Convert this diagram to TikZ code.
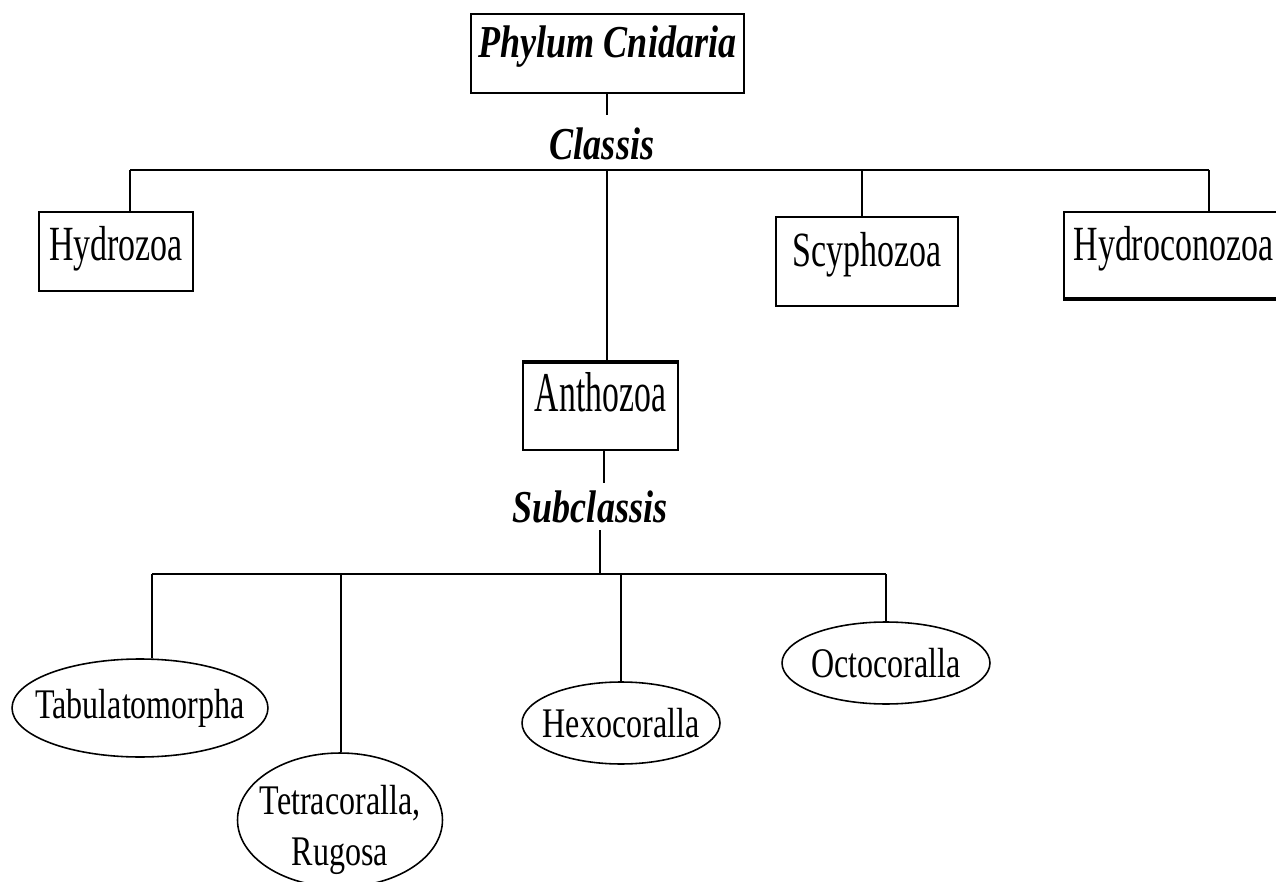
\documentclass[tikz,border=0pt]{standalone}
\usepackage{fontspec}
\setmainfont{Liberation Serif}[FakeStretch=0.69]
\newfontfamily\rankfont{Liberation Serif}[FakeStretch=0.79]
\newfontfamily\ovalfont{Liberation Serif}[FakeStretch=0.76]
\newfontfamily\tallfont{Liberation Serif}[FakeStretch=0.6]
\usetikzlibrary{shapes.geometric}

\begin{document}
\begin{tikzpicture}[x=0.02cm,y=-0.02cm,line width=1.1pt,
	every node/.style={font=\fontsize{28}{29}\selectfont},
	taxbox/.style={draw,rectangle,anchor=north west,inner xsep=0pt,inner ysep=0pt},
	rankname/.style={anchor=base,font=\fontsize{26}{27}\rankfont\bfseries\itshape},
	subtaxon/.style={draw,ellipse,line width=0.9pt,inner sep=0pt,align=center,font=\fontsize{24}{28.5}\ovalfont}]
	\useasboundingbox (0,0) rectangle (1276,882);
	\node[taxbox,minimum width=5.46cm,text height=0.88cm,text depth=0.7cm,font=\fontsize{26}{27}\rankfont\bfseries\itshape] (phylum) at (470,13) {Phylum Cnidaria};
	\node[rankname] (classis) at (602,160) {Classis};
	\node[taxbox,minimum width=3.08cm,text height=0.98cm,text depth=0.6cm] (hydrozoa) at (38,211) {Hydrozoa};
	\node[taxbox,minimum width=3.64cm,text height=1.0cm,text depth=0.78cm] (scyphozoa) at (775,216) {Scyphozoa};
	\node[taxbox,minimum width=4.38cm,text height=0.98cm,text depth=0.74cm] (hydroconozoa) at (1063,211) {Hydroconozoa};
	\node[taxbox,minimum width=3.1cm,text height=0.98cm,text depth=0.76cm,font=\fontsize{32}{33}\tallfont] (anthozoa) at (522,362) {Anthozoa};
	\node[rankname] (subclassis) at (590,522) {Subclassis};
	\node[subtaxon,minimum width=5.12cm,minimum height=1.96cm] (tabulato) at (140,708) {\makebox[0pt]{Tabulatomorpha}};
	\node[subtaxon,minimum width=4.1cm,minimum height=2.68cm] (tetra) at (340,820) {\makebox[0pt]{\raisebox{-0.4cm}[0pt][0pt]{Tetracoralla,}}\\\makebox[0pt]{\raisebox{-0.4cm}[0pt][0pt]{Rugosa}}};
	\node[subtaxon,minimum width=3.96cm,minimum height=1.64cm] (hexo) at (621,723) {\makebox[0pt]{Hexocoralla}};
	\node[subtaxon,minimum width=4.16cm,minimum height=1.64cm] (octo) at (886,663) {\makebox[0pt]{Octocoralla}};
	\coordinate (ptop) at (607,115);
	\coordinate (cL) at (130,170);
	\coordinate (cA) at (607,170);
	\coordinate (cS) at (862,170);
	\coordinate (cR) at (1209,170);
	\coordinate (aS) at (604,483);
	\coordinate (sTop) at (600,530);
	\coordinate (sM) at (600,574);
	\coordinate (sL) at (152,574);
	\coordinate (sT) at (341,574);
	\coordinate (sH) at (621,574);
	\coordinate (sR) at (886,574);
	\draw (phylum.south -| ptop) -- (ptop);
	\draw (cL) -- (cR);
	\draw (cL) -- (cL |- hydrozoa.north);
	\draw (cA) -- (cA |- anthozoa.north);
	\draw (cS) -- (cS |- scyphozoa.north);
	\draw (cR) -- (cR |- hydroconozoa.north);
	\draw[line width=2.4pt] (anthozoa.north west) -- (anthozoa.north east);
	\draw[line width=2.4pt] (hydroconozoa.south west) -- (hydroconozoa.south east);
	\draw (anthozoa.south -| aS) -- (aS);
	\draw (sTop) -- (sM);
	\draw (sL) -- (sR);
	\draw (sL) -- (sL |- tabulato.north);
	\draw (sT) -- (sT |- tetra.north);
	\draw (sH) -- (sH |- hexo.north);
	\draw (sR) -- (sR |- octo.north);
\end{tikzpicture}
\end{document}
